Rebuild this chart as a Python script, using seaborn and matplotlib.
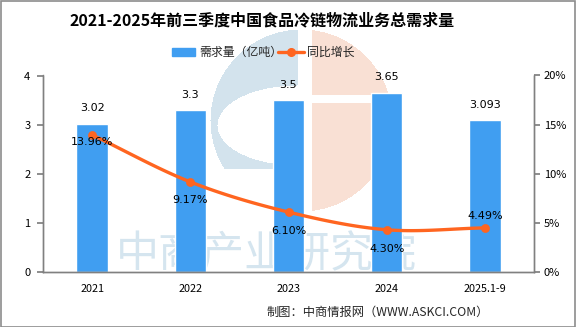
import numpy as np
import pandas as pd
import seaborn as sns
import matplotlib
matplotlib.use("Agg")
import matplotlib.pyplot as plt
from matplotlib.patches import Rectangle

categories = ["2021", "2022", "2023", "2024", "2025.1-9"]
demand = [3.02, 3.3, 3.5, 3.65, 3.093]
demand_labels = ["3.02", "3.3", "3.5", "3.65", "3.093"]
growth = [13.96, 9.17, 6.10, 4.30, 4.49]
growth_labels = ["13.96%", "9.17%", "6.10%", "4.30%", "4.49%"]
left_ticks = [0, 1, 2, 3, 4]
right_ticks = [0, 5, 10, 15, 20]

title = "2021-2025年前三季度中国食品冷链物流业务总需求量"
bar_name = "需求量（亿吨）"
line_name = "同比增长"
source = "制图：中商情报网（WWW.ASKCI.COM）"
watermark = "中商产业研究院"

sns.set_theme(style="white")
plt.rcParams['font.family'] = ['Noto Sans CJK SC', 'DejaVu Sans']

BAR = "#409EF1"
LINE = "#FF6520"
AX = "#808080"

fig = plt.figure(figsize=(5.76, 3.27), dpi=100)
W, H = 576, 327

# faint decorative logo watermark (raster, behind the chart)
yy, xx = np.mgrid[0:H, 0:W].astype(float)
cx, cy, r = 301.0, 120.0, 91.0
circle = (xx - cx) ** 2 + (yy - cy) ** 2 <= r ** 2
inner = ((xx - 297) / 80.0) ** 2 + ((yy - 125) / 40.0) ** 2 <= 1
blue = circle & (xx <= 297) & ((yy <= 168) | (xx >= 273)) & ~inner
orange = circle & (xx >= 312) & ~((yy >= 95) & (yy <= 102))
img = np.zeros((H, W, 4))
img[blue] = [0.83, 0.894, 0.933, 1.0]
img[orange] = [0.98, 0.882, 0.835, 1.0]
fig.figimage(img, 0, 0, origin="upper", zorder=-2)

fig.text(266 / W, 1 - 255 / H, watermark, fontsize=31, color="#d5e5ef",
         ha="center", va="center", zorder=-1)

ax = fig.add_axes([43 / W, 1 - 272 / H, (534 - 43) / W, (272 - 75.5) / H])
ax.patch.set_visible(False)

df = pd.DataFrame({"cat": categories, "demand": demand})
sns.barplot(data=df, x="cat", y="demand", color=BAR, width=0.32,
            saturation=1, ax=ax, zorder=2)
ax.set_xlim(-0.5, len(categories) - 0.5)
ax.set_ylim(0, 4)
ax.set_yticks(left_ticks)
ax.set_yticklabels([str(t) for t in left_ticks])
ax.set_xlabel("")
ax.set_ylabel("")

ax2 = ax.twinx()
ax2.patch.set_visible(False)
ax2.set_ylim(0, 20)
ax2.set_yticks(right_ticks)
ax2.set_yticklabels([f"{t}%" for t in right_ticks])

# smooth curve through the data points (Catmull-Rom) for display
x = np.arange(len(growth), dtype=float)
y = np.array(growth, dtype=float)
xs, ys = [], []
pts_x = np.concatenate([[2 * x[0] - x[1]], x, [2 * x[-1] - x[-2]]])
pts_y = np.concatenate([[2 * y[0] - y[1]], y, [2 * y[-1] - y[-2]]])
t = np.linspace(0, 1, 30)
for i in range(1, len(pts_x) - 2):
    p0, p1, p2, p3 = [np.array([pts_x[j], pts_y[j]]) for j in range(i - 1, i + 3)]
    for tt in t:
        pt = 0.5 * ((2 * p1) + (-p0 + p2) * tt + (2 * p0 - 5 * p1 + 4 * p2 - p3) * tt ** 2
                    + (-p0 + 3 * p1 - 3 * p2 + p3) * tt ** 3)
        xs.append(pt[0]); ys.append(pt[1])
ax2.plot(xs, ys, color=LINE, lw=2.4, zorder=3, solid_capstyle="round")
sns.scatterplot(x=x, y=y, color=LINE, s=34, edgecolor=LINE, ax=ax2, zorder=4, legend=False)

# labels
for i, (v, lab) in enumerate(zip(demand, demand_labels)):
    ax.text(i, v + 0.31, lab, ha="center", va="center", fontsize=8,
            color="black", family=["DejaVu Sans"])
offsets = [-0.75, -1.85, -1.9, -1.95, 1.25]
for i, (v, lab) in enumerate(zip(growth, growth_labels)):
    ax2.text(i, v + offsets[i], lab, ha="center", va="center", fontsize=8,
             color="black", family=["DejaVu Sans"], zorder=5)

for a in (ax, ax2):
    a.spines["top"].set_visible(False)
    for s in ["left", "right", "bottom"]:
        a.spines[s].set_color(AX)
        a.spines[s].set_linewidth(1)
ax.tick_params(axis="y", which="both", left=True, length=4, color=AX, labelsize=8,
               labelcolor="black", pad=5)
ax.tick_params(axis="x", length=0, labelsize=7.8, pad=9, labelcolor="black")
ax2.tick_params(axis="y", right=True, length=4, color=AX, labelsize=8, labelcolor="black", pad=3)
ax.grid(False); ax2.grid(False)

fig.text(0.455, 1 - 20 / H, title, ha="center", va="center", fontsize=11.5,
         fontweight="bold", color="black")

# legend
ly = 1 - 52 / H
fig.patches.append(Rectangle((172 / W, ly - 3.5 / H), 23 / W, 7 / H, transform=fig.transFigure,
                             color=BAR, figure=fig))
fig.text(199 / W, ly, bar_name, ha="left", va="center", fontsize=8.6)
fig.lines.append(plt.Line2D([278 / W, 304 / W], [ly, ly], transform=fig.transFigure,
                            color=LINE, lw=2.4, figure=fig))
fig.lines.append(plt.Line2D([291 / W], [ly], transform=fig.transFigure, marker="o",
                            ms=5.5, color=LINE, figure=fig))
fig.text(307 / W, ly, line_name, ha="left", va="center", fontsize=8.6)

fig.text(489 / W, 1 - 312 / H, source, ha="right", va="center", fontsize=8.8)

fig.patches.append(Rectangle((0.5 / W, 0.5 / H), (W - 1.5) / W, (H - 1.5) / H,
                             transform=fig.transFigure, fill=False, edgecolor="#8c8c8c",
                             lw=1.2, figure=fig))

fig.savefig("out.png", dpi=100)
